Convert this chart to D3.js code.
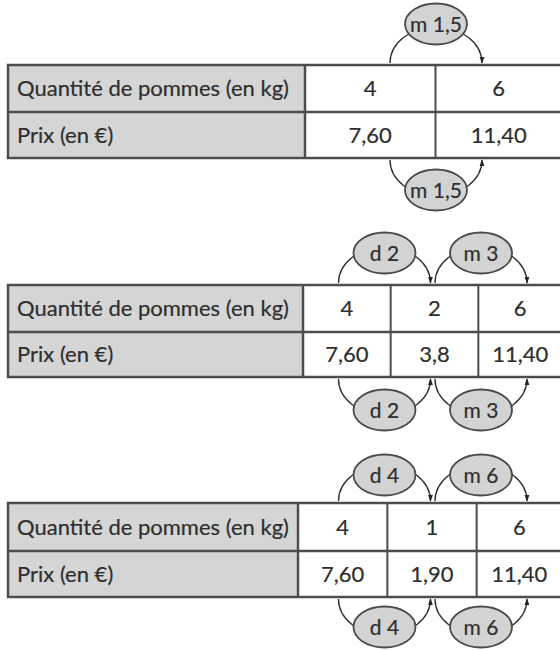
<!DOCTYPE html>
<html><head><meta charset="utf-8">
<script src="https://cdn.jsdelivr.net/npm/d3@7"></script>
<style>body{margin:0;background:#fff}</style>
</head><body>
<svg id="c" width="560" height="650"></svg>
<script>
// ---- data ----
const rowLabels = ["Quantité de pommes (en kg)", "Prix (en €)"];
const quantities = [["4","6"], ["4","2","6"], ["4","1","6"]];
const prices = [["7,60","11,40"], ["7,60","3,8","11,40"], ["7,60","1,90","11,40"]];
const operators = [["m 1,5"], ["d 2","m 3"], ["d 4","m 6"]];

// ---- layout (positions only) ----
const layout = [
  {top: 65,  rowH: [47, 46], headX: 305, arcMid: [436],        ovalUp: 41, ovalDown: 32},
  {top: 285, rowH: [47, 45], headX: 303, arcMid: [384.5, 481], ovalUp: 32, ovalDown: 33},
  {top: 503, rowH: [48, 46], headX: 298, arcMid: [384.5, 481], ovalUp: 28, ovalDown: 30}
];
const tableLeft = 8, tableRight = 566;
const font = "Lato, 'Open Sans', sans-serif";
const lineCol = "#4d4d4d", textCol = "#2e2e2e";

const svg = d3.select("#c");
const defs = svg.append("defs");
defs.append("marker").attr("id", "ah").attr("viewBox", "0 0 10 10")
  .attr("refX", 9).attr("refY", 5).attr("markerWidth", 7).attr("markerHeight", 7)
  .attr("markerUnits", "userSpaceOnUse").attr("orient", "auto")
  .append("path").attr("d", "M0,1.5 L10,5 L0,8.5 Z").attr("fill", "#222");

function styleText(sel, size) {
  sel.attr("font-family", font).attr("font-size", size).attr("fill", textCol)
    .attr("stroke", textCol).attr("stroke-width", 0.2);
}

layout.forEach((L, t) => {
  const g = svg.append("g");
  const top = L.top, mid = top + L.rowH[0], bot = mid + L.rowH[1];
  const nCols = quantities[t].length;
  const x = d3.scaleBand().domain(d3.range(nCols)).range([L.headX, tableRight]).padding(0);
  const y = d3.scaleOrdinal().domain([0, 1]).range([top + L.rowH[0] / 2, mid + L.rowH[1] / 2]);

  g.append("rect").attr("x", tableLeft).attr("y", top).attr("width", L.headX - tableLeft)
    .attr("height", bot - top).attr("fill", "#d5d5d5");
  g.append("rect").attr("x", tableLeft).attr("y", top).attr("width", tableRight - tableLeft)
    .attr("height", bot - top).attr("fill", "none").attr("stroke", lineCol).attr("stroke-width", 2.5);
  g.append("line").attr("x1", tableLeft).attr("x2", tableRight).attr("y1", mid).attr("y2", mid)
    .attr("stroke", lineCol).attr("stroke-width", 2.5);
  g.selectAll("line.v").data(d3.range(nCols)).join("line").attr("class", "v")
    .attr("x1", d => x(d)).attr("x2", d => x(d)).attr("y1", top).attr("y2", bot)
    .attr("stroke", lineCol).attr("stroke-width", d => d === 0 ? 2.5 : 2);

  g.selectAll("text.lab").data(rowLabels).join("text").attr("class", "lab")
    .attr("x", 17).attr("y", (d, i) => y(i)).attr("dy", "0.36em").text(d => d)
    .call(styleText, 22);

  const cells = [];
  quantities[t].forEach((v, i) => cells.push({r: 0, c: i, v}));
  prices[t].forEach((v, i) => cells.push({r: 1, c: i, v}));
  g.selectAll("text.val").data(cells).join("text").attr("class", "val")
    .attr("x", d => x(d.c) + Math.min(x.bandwidth(), 560 - x(d.c) + 2) / 2)
    .attr("y", d => y(d.r)).attr("dy", "0.36em").attr("text-anchor", "middle").text(d => d.v)
    .call(styleText, 22);

  const hw = 46, ry = 36;
  operators[t].forEach((op, i) => {
    const m = L.arcMid[i];
    g.append("path").attr("d", `M${m - hw},${top - 2} A${hw},${ry} 0 0 1 ${m + hw},${top - 2}`)
      .attr("fill", "none").attr("stroke", "#333").attr("stroke-width", 1.4).attr("marker-end", "url(#ah)");
    g.append("path").attr("d", `M${m - hw},${bot + 2} A${hw},${ry} 0 0 0 ${m + hw},${bot + 2}`)
      .attr("fill", "none").attr("stroke", "#333").attr("stroke-width", 1.4).attr("marker-end", "url(#ah)");
    [top - L.ovalUp, bot + L.ovalDown].forEach(cy => {
      g.append("ellipse").attr("cx", m).attr("cy", cy).attr("rx", 31).attr("ry", 20.5)
        .attr("fill", "#d3d3d3").attr("stroke", "#4a4a4a").attr("stroke-width", 1.8);
      g.append("text").attr("x", m).attr("y", cy).attr("dy", "0.36em").attr("text-anchor", "middle")
        .text(op).call(styleText, 21);
    });
  });
});
</script>
</body></html>
